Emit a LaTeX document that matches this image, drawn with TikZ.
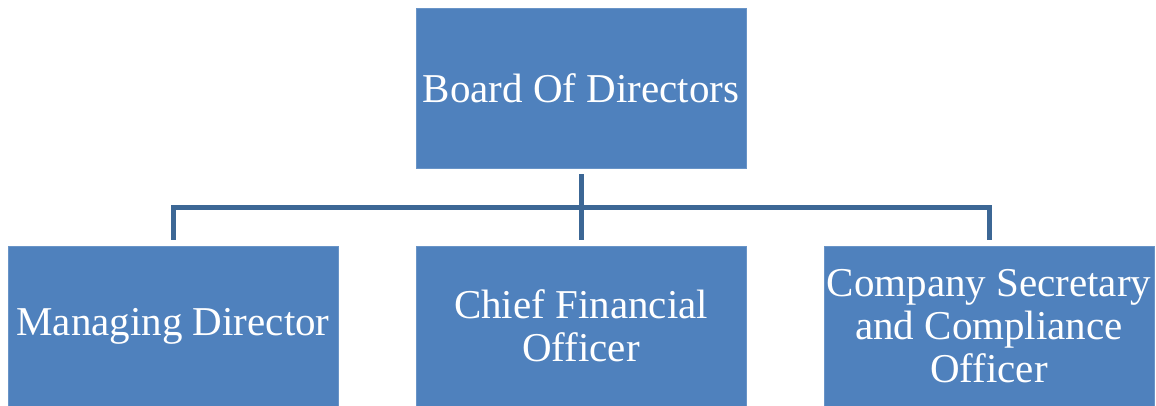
\documentclass[tikz,border=0pt]{standalone}
\usepackage{fontspec}
\setmainfont{Liberation Serif}
\usepackage{tikz}
\usetikzlibrary{positioning}
\definecolor{boxblue}{HTML}{4F81BD}
\definecolor{lineblue}{HTML}{3C6795}

\begin{document}
\begin{tikzpicture}[x=1pt, y=-1pt,
	orgbox/.style={fill=boxblue, draw=boxblue!85!white, line width=0.8pt, minimum width=330pt, minimum height=160pt, inner sep=0pt, align=center, text=white, font=\fontsize{41}{43}\selectfont},
	link/.style={draw=lineblue, line width=5pt}]
				\useasboundingbox (0,0) rectangle (1156,406);
				\node [orgbox] (board) at (581,88) {Board Of Directors};
				\node [orgbox] (md) at (173,326) {Managing Director};
				\node [orgbox] (cfo) at (581,326) {Chief Financial\\Officer};
				\node [orgbox] (cs) at (989,326) {Company Secretary\\and Compliance\\Officer};
				\coordinate (split) at (581,208);
				\draw [link] ([yshift=-6pt]board.south) -- ([yshift=6pt]cfo.north);
				\draw [link] ([yshift=6pt]md.north) |- (split) -| ([yshift=6pt]cs.north);
				\end{tikzpicture}
\end{document}
